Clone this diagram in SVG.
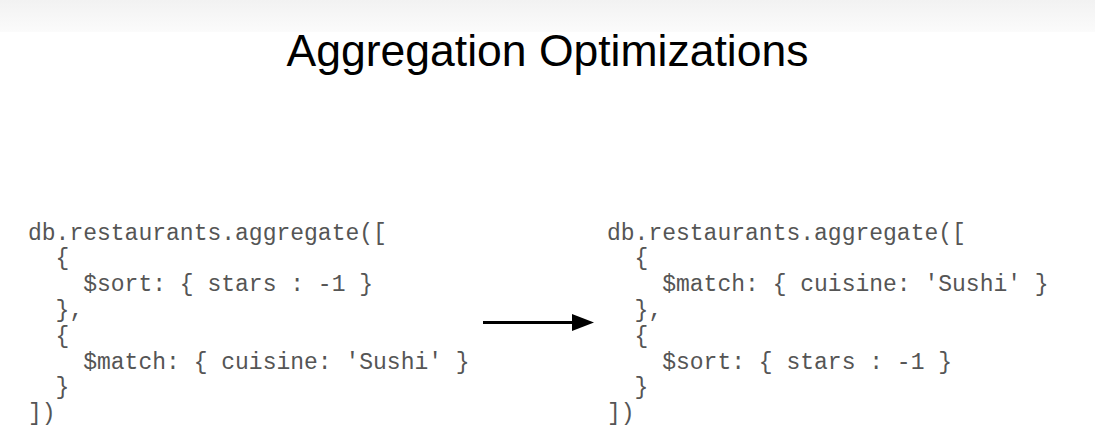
<svg xmlns="http://www.w3.org/2000/svg" width="1095" height="437" viewBox="0 0 1095 437">
  <defs>
    <linearGradient id="band" x1="0" y1="0" x2="0" y2="1">
      <stop offset="0" stop-color="#f2f2f2"/>
      <stop offset="1" stop-color="#fbfbfb"/>
    </linearGradient>
    <marker id="arrowhead" viewBox="0 0 22 17" refX="0" refY="8.5" markerWidth="22" markerHeight="17" markerUnits="userSpaceOnUse" orient="auto">
      <path d="M0,0 L22,8.5 L0,17 Z" fill="#000"/>
    </marker>
  </defs>
  <style>
    .title { font-family: "Liberation Sans", Arial, sans-serif; font-size: 44.5px; fill: #000; }
    .code { font-family: "Liberation Mono", "Courier New", monospace; font-size: 23px; fill: #555; white-space: pre; }
    .conn { stroke: #000; stroke-width: 3; fill: none; }
  </style>
  <rect x="0" y="0" width="1095" height="437" fill="#fff"/>
  <rect x="0" y="0" width="1095" height="32" fill="url(#band)"/>

  <g id="title">
    <text class="title" x="547.5" y="66" text-anchor="middle">Aggregation Optimizations</text>
  </g>

  <g id="before-code">
    <text class="code" x="28" y="239.5" xml:space="preserve">db.restaurants.aggregate([</text>
    <text class="code" x="28" y="265.3" xml:space="preserve">  {</text>
    <text class="code" x="28" y="291.1" xml:space="preserve">    $sort: { stars : -1 }</text>
    <text class="code" x="28" y="316.9" xml:space="preserve">  },</text>
    <text class="code" x="28" y="342.7" xml:space="preserve">  {</text>
    <text class="code" x="28" y="368.5" xml:space="preserve">    $match: { cuisine: 'Sushi' }</text>
    <text class="code" x="28" y="394.3" xml:space="preserve">  }</text>
    <text class="code" x="28" y="420.1" xml:space="preserve">])</text>
  </g>

  <g id="after-code">
    <text class="code" x="607" y="239.5" xml:space="preserve">db.restaurants.aggregate([</text>
    <text class="code" x="607" y="265.3" xml:space="preserve">  {</text>
    <text class="code" x="607" y="291.1" xml:space="preserve">    $match: { cuisine: 'Sushi' }</text>
    <text class="code" x="607" y="316.9" xml:space="preserve">  },</text>
    <text class="code" x="607" y="342.7" xml:space="preserve">  {</text>
    <text class="code" x="607" y="368.5" xml:space="preserve">    $sort: { stars : -1 }</text>
    <text class="code" x="607" y="394.3" xml:space="preserve">  }</text>
    <text class="code" x="607" y="420.1" xml:space="preserve">])</text>
  </g>

  <g id="connectors">
    <line class="conn" x1="483" y1="322.5" x2="572" y2="322.5" marker-end="url(#arrowhead)"/>
  </g>
</svg>
